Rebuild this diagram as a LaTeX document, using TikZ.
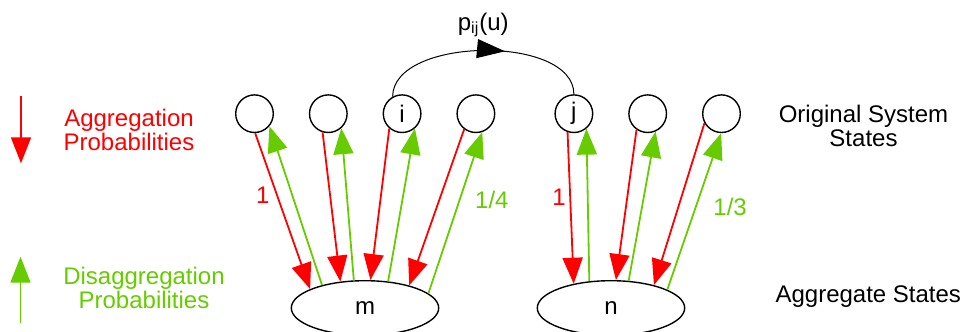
\documentclass[tikz,border=0pt]{standalone}
\usepackage{fontspec}
\setmainfont{Liberation Sans}
\usetikzlibrary{arrows.meta,positioning,shapes.geometric,decorations.markings}
\definecolor{aggred}{RGB}{255,0,0}
\definecolor{disgreen}{RGB}{102,204,0}

\begin{document}
\begin{tikzpicture}[
  x=0.5pt, y=0.5pt,
  font=\fontsize{12}{12}\selectfont,
  state/.style={draw, circle, line width=0.7pt, minimum size=18.8pt, inner sep=0pt},
  aggstate/.style={draw, ellipse, line width=0.7pt, minimum width=73.7pt, minimum height=27.3pt, inner sep=0pt},
  aggarr/.style={-{Triangle[length=13pt,width=10pt]}, line width=0.9pt, aggred},
  disarr/.style={-{Triangle[length=13pt,width=10pt]}, line width=0.9pt, disgreen},
  trans/.style={line width=0.5pt, postaction={decorate},
    decoration={markings, mark=at position 0.6 with {\arrow{Triangle[length=14pt,width=9.5pt]}}}}
]
\useasboundingbox (0,0) rectangle (966,332);
% original system states
\node[state] (s1) at (254.5,218.3) {};
\node[state, right=17.4pt of s1] (s2) {};
\node[state, right=17.4pt of s2] (si) {i};
\node[state, right=17.4pt of si] (s4) {};
\node[state, right=29.5pt of s4] (sj) {j};
\node[state, right=17.4pt of sj] (s6) {};
\node[state, right=17.4pt of s6] (s7) {};
% aggregate states
\node[aggstate] (m) at (365,24) {m};
\node[aggstate] (n) at (611,24) {n};
% transition i -> j
\draw[trans] (si.119) .. controls +(0,60) and +(0,60) .. (sj.90)
  node[pos=0.5, above=3pt] (plbl) {p\textsubscript{ij}(u)};
% aggregation / disaggregation arrows
\draw[aggarr] (s1.-88) -- (m.161) node[pos=0.4, left] (l1) {1};
\draw[disarr] (m.152) -- (s1.-40);
\draw[aggarr] (s2.-107) -- (m.133);
\draw[disarr] (m.112) -- (s2.-48);
\draw[aggarr] (si.-131) -- (m.79);
\draw[disarr] (m.49.5) -- (si.-49);
\draw[aggarr] (s4.-127) -- (m.27);
\draw[disarr] (m.13) -- (s4.-71) node[pos=0.58, right=4pt, text=disgreen] (l2) {1/4};
\draw[aggarr] (sj.-109) -- (n.147) node[pos=0.43, left=-1.5pt] (l3) {1};
\draw[disarr] (n.129) -- (sj.-50);
\draw[aggarr] (s6.-125) -- (n.80);
\draw[disarr] (n.57) -- (s6.-66);
\draw[aggarr] (s7.-151) -- (n.28.5);
\draw[disarr] (n.18) -- (s7.-91) node[pos=0.53, right=5pt, text=disgreen] (l4) {1/3};
% legend
\coordinate (aggtop) at (21,236);
\coordinate (aggbot) at (21,168.7);
\draw[aggarr] (aggtop) -- (aggbot);
\node[text=aggred, align=center] (agglbl) at (129,202) {Aggregation\\Probabilities};
\coordinate (disbot) at (20.5,9);
\coordinate (distop) at (20.5,75.3);
\draw[disarr] (disbot) -- (distop);
\node[text=disgreen, align=center] (dislbl) at (144,44) {Disaggregation\\Probabilities};
% level names
\node[align=center] (origlbl) at (863.5,206.2) {Original System\\States};
\node (agglvl) at (868.3,35) {Aggregate States};
\end{tikzpicture}
\end{document}
